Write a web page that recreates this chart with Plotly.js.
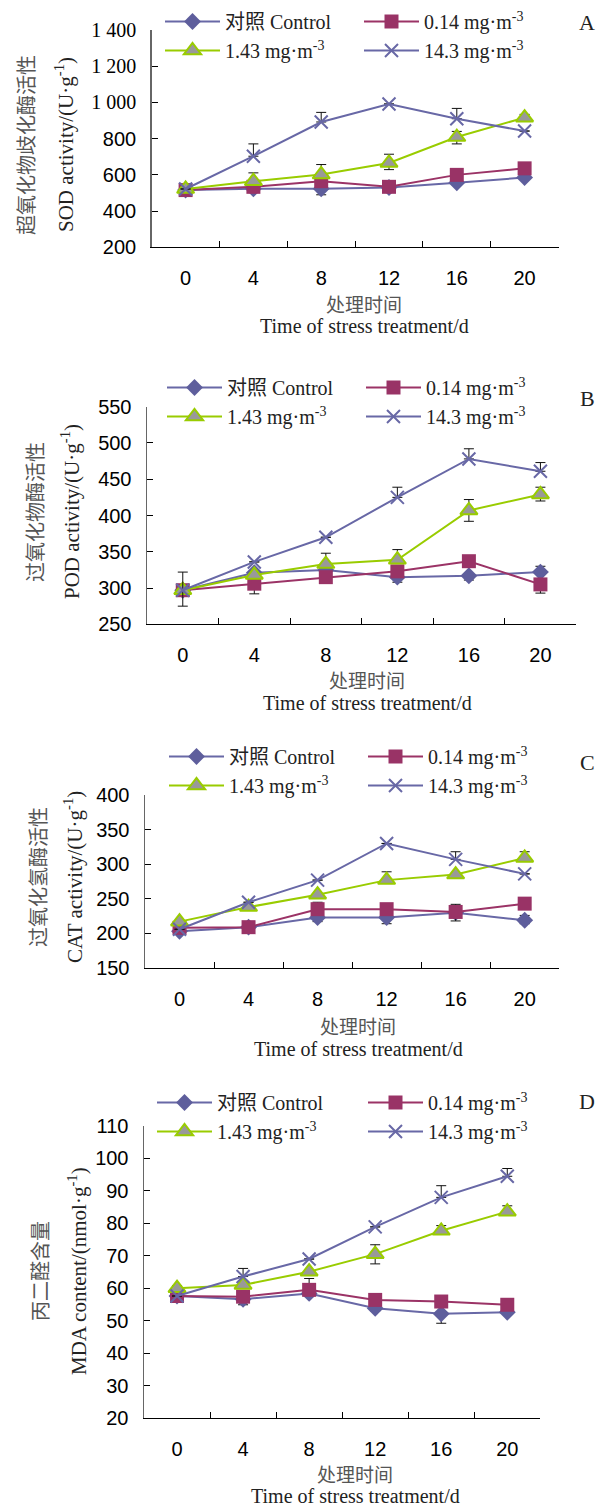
<!DOCTYPE html>
<html>
<head>
<meta charset="utf-8">
<script src="https://cdn.plot.ly/plotly-3.0.1.min.js"></script>
<style>html,body{margin:0;padding:0;background:#fff;}</style>
</head>
<body>
<div id="chart" style="width:602px;height:1506px;"></div>
<script>
// ---------- data ----------
const days = ['0', '4', '8', '12', '16', '20'];
const seriesNames = ['对照 Control', '0.14 mg·m<sup>-3</sup>', '1.43 mg·m<sup>-3</sup>', '14.3 mg·m<sup>-3</sup>'];

// SOD activity (U·g-1)
const sodControl = [516, 523, 523, 530, 556, 585];
const sod014 = [516, 534, 565, 534, 600, 636];
const sod143 = [522, 565, 602, 666, 809, 916];
const sod143x = [522, 703, 892, 991, 910, 842];
const sodControlPlus = [0, 0, 0, 0, 0, 0];
const sodControlMinus = [0, 8, 33, 0, 10, 10];
const sod014Plus = [0, 0, 10, 8, 0, 12];
const sod014Minus = [0, 0, 0, 0, 0, 0];
const sod143Plus = [0, 46, 55, 48, 31, 18];
const sod143Minus = [0, 0, 0, 37, 38, 0];
const sod143xPlus = [0, 68, 53, 0, 57, 0];
const sod143xMinus = [0, 0, 0, 0, 0, 0];
const sodTickVals = [200, 400, 600, 800, 1000, 1200, 1400];
const sodTickText = ['200', '400', '600', '800', '1 000', '1 200', '1 400'];

// POD activity
const podControl = [297, 321, 325, 315, 317, 322];
const pod014 = [297, 306, 315, 323, 337, 305];
const pod143 = [297, 318, 333, 339, 407, 429];
const pod143x = [297, 336, 370, 425, 478, 461];
const podControlPlus = [0, 0, 0, 0, 0, 8];
const podControlMinus = [0, 0, 0, 7, 6, 0];
const pod014Plus = [0, 0, 0, 5, 5, 0];
const pod014Minus = [0, 14, 0, 0, 0, 12];
const pod143Plus = [0, 0, 15, 14, 15, 10];
const pod143Minus = [0, 0, 0, 0, 15, 9];
const pod143xPlus = [25, 0, 0, 14, 14, 12];
const pod143xMinus = [22, 0, 0, 0, 0, 0];
const podTickVals = [250, 300, 350, 400, 450, 500, 550];
const podTickText = ['250', '300', '350', '400', '450', '500', '550'];

// CAT activity
const catControl = [203, 209, 223, 223, 230, 219];
const cat014 = [208, 209, 235, 235, 231, 243];
const cat143 = [217, 238, 256, 277, 285, 309];
const cat143x = [206, 245, 277, 330, 307, 286];
const catControlPlus = [0, 0, 0, 0, 0, 7];
const catControlMinus = [0, 0, 6, 9, 0, 5];
const cat014Plus = [0, 0, 10, 0, 11, 0];
const cat014Minus = [0, 0, 0, 0, 13, 0];
const cat143Plus = [0, 0, 0, 12, 0, 9];
const cat143Minus = [0, 0, 0, 0, 0, 0];
const cat143xPlus = [0, 0, 0, 0, 11, 0];
const cat143xMinus = [0, 0, 0, 0, 0, 0];
const catTickVals = [150, 200, 250, 300, 350, 400];
const catTickText = ['150', '200', '250', '300', '350', '400'];

// MDA content
const mdaControl = [57.6, 56.6, 58.4, 53.8, 52.1, 52.6];
const mda014 = [57.6, 57.4, 59.5, 56.4, 55.9, 54.9];
const mda143 = [60.0, 61.0, 65.1, 70.5, 77.7, 83.6];
const mda143x = [57.6, 63.6, 69.0, 78.9, 88.0, 94.5];
const mdaControlPlus = [0, 0, 0, 0, 0, 0];
const mdaControlMinus = [0, 1.7, 0, 0.8, 2.9, 0.5];
const mda014Plus = [0, 0, 3.5, 0, 0, 0];
const mda014Minus = [0, 0, 0, 0, 0, 0];
const mda143Plus = [0.8, 0, 0, 2.9, 1.6, 1.8];
const mda143Minus = [0, 0, 0, 3.0, 0, 0];
const mda143xPlus = [0, 2.5, 0, 0, 3.6, 2.4];
const mda143xMinus = [0, 0, 0, 0, 0, 0];
const mdaTickVals = [20, 30, 40, 50, 60, 70, 80, 90, 100, 110];
const mdaTickText = ['20', '30', '40', '50', '60', '70', '80', '90', '100', '110'];

const yTitlesZh = ['超氧化物歧化酶活性', '过氧化物酶活性', '过氧化氢酶活性', '丙二醛含量'];
const yTitlesEn = ['SOD activity/(U·g<sup>-1</sup>)', 'POD activity/(U·g<sup>-1</sup>)', 'CAT activity/(U·g<sup>-1</sup>)', 'MDA content/(nmol·g<sup>-1</sup>)'];
const xTitleZh = '处理时间';
const xTitleEn = 'Time of stress treatment/d';
const panelLetters = ['A', 'B', 'C', 'D'];

// ---------- layout geometry ----------
const W = 602, H = 1506, L = 140, R = 582;
const px = v => (v - L) / (R - L);
const py = v => 1 - v / H;

const SERIF = 'Liberation Serif, "Noto Sans CJK SC", serif';
const SANS = 'Liberation Sans, Arial, sans-serif';
const CJK = '"Noto Sans CJK SC", sans-serif';

const panels = [
  {vals: [sodControl, sod014, sod143, sod143x],
   plus: [sodControlPlus, sod014Plus, sod143Plus, sod143xPlus],
   minus: [sodControlMinus, sod014Minus, sod143Minus, sod143xMinus],
   range: [200, 1400], tv: sodTickVals, tt: sodTickText,
   x0: 151.7, x1: 558.5, yTop: 30, yBot: 247.3, entryW: 129,
   legX: 168, legY: 18, zhX: 25, enX: 64, titleY: 145, xtX: 364, xtY1: 303, xtY2: 326, letterY: 23},
  {vals: [podControl, pod014, pod143, pod143x],
   plus: [podControlPlus, pod014Plus, pod143Plus, pod143xPlus],
   minus: [podControlMinus, pod014Minus, pod143Minus, pod143xMinus],
   range: [250, 550], tv: podTickVals, tt: podTickText,
   x0: 147, x1: 576.2, yTop: 406.7, yBot: 624.3, entryW: 129,
   legX: 170, legY: 384, zhX: 35, enX: 71, titleY: 512, xtX: 367, xtY1: 679, xtY2: 703, letterY: 398},
  {vals: [catControl, cat014, cat143, cat143x],
   plus: [catControlPlus, cat014Plus, cat143Plus, cat143xPlus],
   minus: [catControlMinus, cat014Minus, cat143Minus, cat143xMinus],
   range: [150, 400], tv: catTickVals, tt: catTickText,
   x0: 145, x1: 559.2, yTop: 795, yBot: 968, entryW: 129,
   legX: 172, legY: 753, zhX: 37, enX: 73, titleY: 877, xtX: 358, xtY1: 1025, xtY2: 1049, letterY: 762},
  {vals: [mdaControl, mda014, mda143, mda143x],
   plus: [mdaControlPlus, mda014Plus, mda143Plus, mda143xPlus],
   minus: [mdaControlMinus, mda014Minus, mda143Minus, mda143xMinus],
   range: [20, 110], tv: mdaTickVals, tt: mdaTickText,
   x0: 144, x1: 540.3, yTop: 1126, yBot: 1418, entryW: 141,
   legX: 160, legY: 1099, zhX: 39, enX: 77, titleY: 1271, xtX: 355, xtY1: 1473, xtY2: 1496, letterY: 1101}
];

const styles = [
  {line: {color: '#6868A6', width: 2},
   marker: {symbol: 'diamond', size: 13, color: '#5E5E9C', line: {width: 0}}},
  {line: {color: '#9B3366', width: 2},
   marker: {symbol: 'square', size: 14, color: '#993366', line: {width: 0}}},
  {line: {color: '#99CC00', width: 2},
   marker: {symbol: 'triangle-up', size: 15, color: '#999999', line: {color: '#99CC00', width: 2}}},
  {line: {color: '#6868A6', width: 2},
   marker: {symbol: 'x-thin-open', size: 13, color: '#6868A6', line: {color: '#6868A6', width: 2}}}
];

const traces = [];
const layout = {
  width: W, height: H,
  margin: {l: L, r: W - R, t: 0, b: 0, pad: 0},
  paper_bgcolor: '#fff', plot_bgcolor: 'rgba(0,0,0,0)',
  font: {family: SERIF, size: 20, color: '#222'},
  showlegend: true,
  annotations: []
};

panels.forEach((p, i) => {
  const suf = i === 0 ? '' : String(i + 1);
  const legId = i === 0 ? 'legend' : 'legend' + (i + 1);
  for (let s = 0; s < 4; s++) {
    traces.push({
      type: 'scatter', mode: 'lines+markers',
      x: days, y: p.vals[s],
      xaxis: 'x' + suf, yaxis: 'y' + suf,
      name: seriesNames[s], legend: legId,
      line: styles[s].line, marker: styles[s].marker,
      cliponaxis: false,
      error_y: {type: 'data', symmetric: false, array: p.plus[s], arrayminus: p.minus[s],
                color: '#111', thickness: 1, width: 5}
    });
  }
  layout['xaxis' + suf] = {
    type: 'category', categoryorder: 'array', categoryarray: days,
    range: [-0.5, 5.5], domain: [px(p.x0), px(p.x1)], anchor: 'y' + suf,
    tickson: 'boundaries', ticks: 'inside', ticklen: 6, tickcolor: '#000', tickwidth: 1,
    showline: true, linecolor: '#000', linewidth: 1,
    showgrid: false, zeroline: false,
    tickfont: {family: SANS, size: 20, color: '#000'},
    ticklabelstandoff: 13, fixedrange: true
  };
  layout['yaxis' + suf] = {
    range: p.range, domain: [py(p.yBot), py(p.yTop)], anchor: 'x' + suf,
    tickmode: 'array', tickvals: p.tv,
    ticktext: p.tt.map(t => t.indexOf(' ') >= 0 ? '<span style="font-family:Liberation Serif">' + t + '</span>' : t),
    ticks: 'inside', ticklen: 6, tickcolor: '#000', tickwidth: 1,
    showline: true, linecolor: '#666', linewidth: 1.5,
    showgrid: false, zeroline: false,
    tickfont: {family: SANS, size: 20, color: '#000'},
    ticklabelstandoff: 10, fixedrange: true
  };
  layout[legId] = {
    x: px(p.legX - 8), y: py(p.legY - 16), xanchor: 'left', yanchor: 'top',
    orientation: 'h', entrywidth: p.entryW, entrywidthmode: 'pixels',
    itemwidth: 55, traceorder: 'normal',
    bgcolor: 'rgba(0,0,0,0)', borderwidth: 0,
    font: {family: SERIF, size: 20, color: '#222'}
  };
  const ann = layout.annotations;
  ann.push({xref: 'paper', yref: 'paper', x: px(p.zhX), y: py(p.titleY), text: yTitlesZh[i],
            textangle: -90, showarrow: false, xanchor: 'center', yanchor: 'middle',
            font: {family: CJK, size: 20, color: '#555'}});
  ann.push({xref: 'paper', yref: 'paper', x: px(p.enX), y: py(p.titleY), text: yTitlesEn[i],
            textangle: -90, showarrow: false, xanchor: 'center', yanchor: 'middle',
            font: {family: SERIF, size: 21, color: '#222'}});
  ann.push({xref: 'paper', yref: 'paper', x: px(p.xtX), y: py(p.xtY1), text: xTitleZh,
            showarrow: false, xanchor: 'center', yanchor: 'middle',
            font: {family: CJK, size: 19, color: '#555'}});
  ann.push({xref: 'paper', yref: 'paper', x: px(p.xtX), y: py(p.xtY2), text: xTitleEn,
            showarrow: false, xanchor: 'center', yanchor: 'middle',
            font: {family: SERIF, size: 20, color: '#222'}});
  ann.push({xref: 'paper', yref: 'paper', x: px(587), y: py(p.letterY), text: panelLetters[i],
            showarrow: false, xanchor: 'center', yanchor: 'middle',
            font: {family: SERIF, size: 22, color: '#222'}});
});

Plotly.newPlot('chart', traces, layout, {staticPlot: true, displayModeBar: false});
</script>
</body>
</html>
